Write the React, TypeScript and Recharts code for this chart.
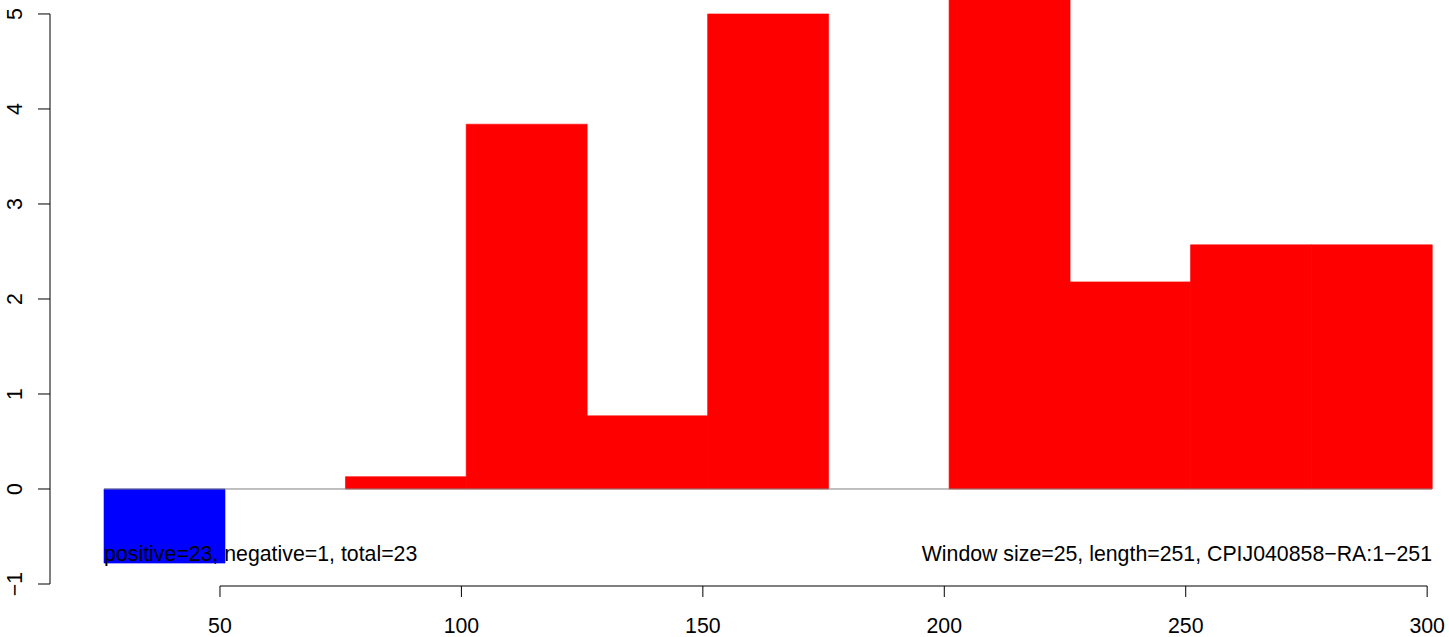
import { BarChart, Bar, Cell, XAxis, YAxis, ReferenceLine } from 'recharts';

// sliding-window scores, one per window of 25 residues
const WINDOW_STARTS = [26, 51, 76, 101, 126, 151, 176, 201, 226, 251, 276];
const WINDOW_SIZE = 25;
const SCORES = [-0.78, 0, 0.13, 3.84, 0.77, 5.0, 0, 5.6, 2.18, 2.57, 2.57];

const X_TICKS = [50, 100, 150, 200, 250, 300];
const Y_TICKS = [-1, 0, 1, 2, 3, 4, 5];

const LEFT_NOTE = 'positive=23, negative=1, total=23';
const RIGHT_NOTE = 'Window size=25, length=251, CPIJ040858\u2212RA:1\u2212251';

const POS_COLOR = '#ff0000';
const NEG_COLOR = '#0000ff';
const FONT = '"Liberation Sans", Arial, Helvetica, sans-serif';
const FONT_SIZE = 21.3;

const WIDTH = 1449;
const HEIGHT = 637;
const X_AXIS_HEIGHT = 51;

// user coordinate extents of the plot region (R style)
const X_DOMAIN: [number, number] = [14.8, 301];
const Y_DOMAIN: [number, number] = [-1.021, 5.147];
const NOTE_Y = -0.68;

const windows = WINDOW_STARTS.map((start, i) => ({
  window: `${start}-${start + WINDOW_SIZE}`,
  mid: start + WINDOW_SIZE / 2,
  score: SCORES[i],
}));

const firstX = WINDOW_STARTS[0];
const lastX = WINDOW_STARTS[WINDOW_STARTS.length - 1] + WINDOW_SIZE;

// y axis line only spans the tick range (R's axis()), done with a dash pattern
const plotH = HEIGHT - X_AXIS_HEIGHT;
const pxPerUnit = plotH / (Y_DOMAIN[1] - Y_DOMAIN[0]);
const yTop = Y_TICKS[Y_TICKS.length - 1];
const yAxisDash = `0 ${(Y_DOMAIN[1] - yTop) * pxPerUnit} ${(yTop - Y_TICKS[0]) * pxPerUnit} ${plotH}`;

function YTick(props: any) {
  const { x, y, payload } = props;
  return (
    <text
      x={x}
      y={y}
      transform={`rotate(-90 ${x} ${y})`}
      textAnchor="middle"
      fontSize={FONT_SIZE}
      fontFamily={FONT}
      fill="#000"
    >
      {String(payload.value).replace('-', '\u2212')}
    </text>
  );
}

export default function App() {
  return (
    <div style={{ position: 'absolute', left: 0, top: 0 }}>
      <BarChart
        width={WIDTH}
        height={HEIGHT}
        data={windows}
        margin={{ top: 0, right: 17, bottom: 0, left: 0 }}
        barCategoryGap={0}
        barGap={0}
      >
        <XAxis
          xAxisId="pos"
          dataKey="mid"
          type="number"
          domain={X_DOMAIN}
          allowDataOverflow
          ticks={X_TICKS}
          height={X_AXIS_HEIGHT}
          axisLine={false}
          tickSize={11}
          tickMargin={21}
          tickLine={{ stroke: '#000', strokeWidth: 1 }}
          tick={{ fill: '#000', fontSize: FONT_SIZE, fontFamily: FONT }}
        />
        <XAxis xAxisId="cat" dataKey="window" hide height={0} padding={{ left: 54, right: 0 }} />
        <YAxis
          domain={Y_DOMAIN}
          allowDataOverflow
          ticks={Y_TICKS}
          width={50}
          axisLine={{ stroke: '#000', strokeWidth: 1, strokeDasharray: yAxisDash }}
          tickSize={12}
          tickMargin={16}
          tickLine={{ stroke: '#000', strokeWidth: 1 }}
          tick={<YTick />}
        />
        <ReferenceLine
          xAxisId="pos"
          segment={[{ x: firstX, y: 0 }, { x: lastX, y: 0 }]}
          stroke="#808080"
          strokeWidth={1}
          ifOverflow="visible"
        />
        <Bar xAxisId="cat" dataKey="score" isAnimationActive={false}>
          {windows.map((w, i) => {
            const c = w.score < 0 ? NEG_COLOR : POS_COLOR;
            return <Cell key={`cell-${i}`} fill={c} stroke={c} strokeWidth={0.6} />;
          })}
        </Bar>
        {/* x axis line only spans the tick range, like R's axis() */}
        <ReferenceLine
          xAxisId="pos"
          segment={[{ x: X_TICKS[0], y: Y_DOMAIN[0] }, { x: X_TICKS[X_TICKS.length - 1], y: Y_DOMAIN[0] }]}
          stroke="#000"
          strokeWidth={1}
          ifOverflow="visible"
        />
        <ReferenceLine
          xAxisId="pos"
          segment={[{ x: firstX, y: NOTE_Y }, { x: lastX, y: NOTE_Y }]}
          stroke="none"
          ifOverflow="visible"
          label={{ value: LEFT_NOTE, position: 'insideLeft', offset: 0, fill: '#000', fontSize: FONT_SIZE, fontFamily: FONT }}
        />
        <ReferenceLine
          xAxisId="pos"
          segment={[{ x: firstX, y: NOTE_Y }, { x: lastX, y: NOTE_Y }]}
          stroke="none"
          ifOverflow="visible"
          label={{ value: RIGHT_NOTE, position: 'insideRight', offset: 0, fill: '#000', fontSize: FONT_SIZE, fontFamily: FONT }}
        />
      </BarChart>
    </div>
  );
}
